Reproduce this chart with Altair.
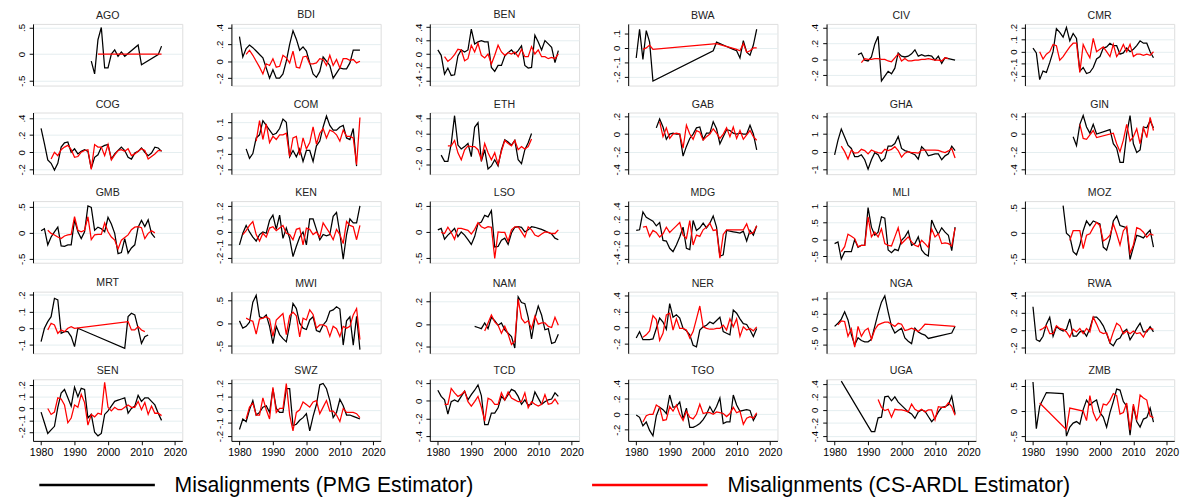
import altair as alt
import pandas as pd

N = None
YEARS = list(range(1980, 2017))
S1 = "Misalignments (PMG Estimator)"
S2 = "Misalignments (CS-ARDL Estimator)"

COUNTRIES = ["AGO", "BDI", "BEN", "BWA", "CIV", "CMR",
             "COG", "COM", "ETH", "GAB", "GHA", "GIN",
             "GMB", "KEN", "LSO", "MDG", "MLI", "MOZ",
             "MRT", "MWI", "NAM", "NER", "NGA", "RWA",
             "SEN", "SWZ", "TCD", "TGO", "UGA", "ZMB"]

# y-axis ranges and tick values
Y_LO = [-0.59, -0.287, -0.471, -0.262, -0.328, -0.279,
        -0.257, -0.231, -0.326, -0.455, -1.28, -0.455,
        -0.575, -0.2375, -0.594, -0.459, -0.69, -0.576,
        -0.15, -0.66, -0.257, -0.32, -0.8, -0.267,
        -0.273, -0.237, -0.455, -0.346, -0.474, -0.596]
Y_HI = [0.566, 0.44, 0.448, 0.167, 0.444, 0.229,
        0.465, 0.162, 0.471, 0.244, 2.22, 0.244,
        0.61, 0.2375, 0.594, 0.474, 1.145, 0.627,
        0.22, 0.69, 0.286, 0.449, 1.236, 0.445,
        0.246, 0.232, 0.244, 0.454, 0.469, 0.635]
Y_TICKS = [[-0.5, 0, 0.5], [-0.2, 0, 0.2, 0.4], [-0.4, -0.2, 0, 0.2, 0.4], [-0.2, -0.1, 0, 0.1], [-0.2, 0, 0.2, 0.4], [-0.2, -0.1, 0, 0.1, 0.2],
           [-0.2, 0, 0.2, 0.4], [-0.2, -0.1, 0, 0.1], [-0.2, 0, 0.2, 0.4], [-0.4, -0.2, 0, 0.2], [-1, 0, 1, 2], [-0.4, -0.2, 0, 0.2],
           [-0.5, 0, 0.5], [-0.2, -0.1, 0, 0.1, 0.2], [-0.5, 0, 0.5], [-0.4, -0.2, 0, 0.2, 0.4], [-0.5, 0, 0.5, 1], [-0.5, 0, 0.5],
           [-0.1, 0, 0.1, 0.2], [-0.5, 0, 0.5], [-0.2, 0, 0.2], [-0.2, 0, 0.2, 0.4], [-0.5, 0, 0.5, 1], [-0.2, 0, 0.2, 0.4],
           [-0.2, -0.1, 0, 0.1, 0.2], [-0.2, -0.1, 0, 0.1, 0.2], [-0.4, -0.2, 0, 0.2], [-0.2, 0, 0.2, 0.4], [-0.4, -0.2, 0, 0.2, 0.4], [-0.5, 0, 0.5]]
X_TICKS = [1980, 1990, 2000, 2010, 2020]

# ---- series values, one entry per year 1980..2016 (None = not reported) ----
AGO_PMG = [N, N, N, N, N, N, N, N, N, N, N, N, N, N, N, -0.13, -0.37, 0.27, 0.5, -0.26, -0.26, 0.0, 0.08, -0.04, 0.04, -0.04, N, N, N, 0.17, -0.2, N, N, N, N, -0.01, 0.15]
AGO_ARDL = [N, N, N, N, N, N, N, N, N, N, N, N, N, N, N, N, N, 0.0, N, N, N, N, N, N, N, N, N, N, N, N, N, N, N, N, N, N, 0.0]
BDI_PMG = [0.29, 0.05, 0.15, 0.19, 0.16, 0.12, 0.08, 0.04, -0.08, -0.2, -0.1, -0.2, -0.2, -0.15, 0.0, 0.2, 0.36, 0.26, 0.13, 0.17, 0.12, -0.02, -0.15, -0.19, -0.12, 0.05, 0.0, -0.05, -0.2, -0.14, -0.08, -0.09, -0.09, -0.02, 0.13, 0.13, 0.13]
BDI_ARDL = [N, N, 0.08, 0.13, 0.07, 0.0, -0.07, -0.15, -0.03, -0.05, 0.03, -0.07, -0.06, 0.07, 0.04, -0.02, 0.12, -0.07, -0.08, 0.05, 0.06, -0.03, -0.03, -0.02, 0.03, 0.02, -0.05, 0.07, -0.05, 0.02, -0.08, 0.03, 0.03, 0.01, 0.02, -0.02, 0.0]
BEN_PMG = [0.06, -0.02, -0.3, -0.21, -0.32, -0.31, -0.03, 0.06, 0.03, 0.06, 0.37, 0.15, 0.18, 0.2, 0.18, 0.18, -0.2, -0.26, -0.17, -0.17, -0.03, 0.02, 0.06, 0.0, 0.05, 0.12, -0.17, -0.21, -0.2, 0.28, 0.18, 0.06, 0.2, 0.15, 0.1, -0.13, 0.05]
BEN_ARDL = [N, N, -0.04, -0.11, -0.07, -0.01, 0.07, 0.06, -0.1, -0.07, 0.13, 0.03, 0.16, -0.02, -0.06, 0.0, -0.15, -0.02, 0.13, 0.03, -0.02, 0.02, 0.0, 0.03, -0.04, 0.07, -0.04, -0.04, 0.11, 0.0, 0.06, -0.04, -0.04, -0.07, -0.05, -0.07, 0.0]
BWA_PMG = [-0.07, 0.13, -0.08, 0.12, 0.04, -0.23, N, N, N, N, N, N, N, N, N, N, N, N, N, N, N, N, N, -0.02, 0.04, 0.03, 0.02, 0.01, 0.0, -0.01, -0.02, -0.07, 0.05, -0.03, -0.05, 0.02, 0.13]
BWA_ARDL = [N, N, -0.01, 0.0, 0.02, -0.01, N, N, N, N, N, N, N, N, N, N, N, N, N, N, N, N, N, N, 0.03, N, N, N, N, N, -0.01, -0.02, 0.03, -0.03, -0.02, 0.0, 0.0]
CIV_PMG = [N, N, N, N, N, N, N, 0.06, 0.08, -0.01, -0.02, 0.03, 0.19, 0.29, -0.27, -0.21, -0.15, -0.18, -0.11, 0.08, 0.04, 0.03, 0.04, 0.07, 0.12, 0.04, 0.06, 0.04, 0.05, 0.04, -0.01, 0.04, -0.05, 0.02, 0.01, 0.0, -0.01]
CIV_ARDL = [N, N, N, N, N, N, N, N, -0.04, 0.01, 0.0, 0.0, 0.01, 0.01, 0.0, 0.0, -0.02, -0.03, 0.02, 0.07, -0.02, 0.01, -0.02, -0.02, -0.01, -0.01, 0.0, 0.0, 0.01, 0.0, -0.01, -0.01, -0.02, 0.02, 0.01, N, N]
CMR_PMG = [0.03, -0.01, -0.23, -0.16, -0.17, -0.09, 0.0, 0.19, 0.16, 0.12, 0.2, 0.09, 0.15, 0.11, -0.16, -0.13, -0.18, -0.17, -0.13, -0.06, -0.04, 0.03, 0.04, 0.07, 0.05, 0.05, -0.02, -0.01, 0.03, 0.0, 0.02, 0.05, 0.09, 0.07, 0.07, 0.0, -0.05]
CMR_ARDL = [N, N, 0.0, -0.06, -0.02, 0.0, 0.06, 0.05, -0.07, -0.04, 0.0, 0.04, 0.07, 0.07, -0.17, 0.06, 0.0, -0.05, 0.11, 0.0, 0.02, 0.04, 0.0, -0.04, 0.06, -0.04, 0.0, 0.06, 0.0, 0.06, -0.04, -0.02, -0.02, -0.03, -0.02, -0.03, 0.0]
COG_PMG = [0.28, 0.1, -0.09, -0.13, -0.21, -0.13, 0.06, 0.11, 0.12, 0.0, 0.04, -0.02, 0.01, 0.03, 0.01, -0.19, -0.06, -0.03, 0.06, 0.08, 0.09, -0.08, -0.02, 0.02, 0.06, 0.02, -0.06, -0.08, -0.01, 0.01, 0.05, 0.0, -0.04, -0.01, 0.06, 0.05, 0.01]
COG_ARDL = [N, N, N, -0.08, 0.0, -0.04, 0.03, 0.06, 0.08, 0.03, -0.06, -0.05, 0.0, 0.02, 0.03, -0.2, 0.09, 0.06, 0.06, -0.04, 0.09, -0.09, -0.03, 0.02, 0.03, 0.01, 0.04, -0.04, -0.02, 0.01, 0.04, 0.02, -0.08, -0.05, -0.02, 0.02, 0.02]
COM_PMG = [N, N, -0.07, -0.13, -0.1, 0.0, 0.02, 0.11, 0.08, 0.05, 0.02, 0.03, 0.06, 0.12, 0.1, -0.12, -0.08, -0.12, -0.07, -0.15, -0.08, -0.08, -0.15, -0.05, -0.02, 0.07, 0.14, 0.08, 0.05, 0.05, 0.07, 0.08, 0.0, -0.01, 0.06, -0.18, N]
COM_ARDL = [N, N, N, N, N, -0.02, 0.11, -0.01, 0.09, -0.03, 0.01, -0.01, 0.02, 0.02, 0.03, -0.12, 0.0, 0.01, -0.11, 0.0, -0.07, -0.03, 0.07, -0.04, 0.03, 0.06, 0.0, 0.05, 0.04, 0.02, -0.02, 0.05, 0.01, 0.01, 0.0, -0.17, 0.13]
ETH_PMG = [N, -0.08, -0.16, -0.16, 0.07, 0.43, 0.05, 0.0, 0.03, 0.07, -0.1, 0.28, 0.34, -0.16, -0.01, -0.26, -0.22, -0.14, -0.22, -0.01, 0.12, 0.09, 0.05, 0.11, -0.14, -0.19, -0.01, 0.08, 0.2, N, N, N, N, N, N, N, N]
ETH_ARDL = [N, N, N, 0.04, 0.04, 0.11, -0.05, -0.14, -0.01, 0.04, 0.03, 0.03, -0.01, -0.14, 0.07, -0.05, -0.14, -0.05, -0.2, -0.03, 0.11, 0.07, 0.04, 0.11, -0.01, 0.03, 0.0, 0.03, 0.13, N, N, N, N, N, N, N, N]
GAB_PMG = [N, N, N, N, N, N, 0.07, 0.17, 0.08, -0.06, 0.0, 0.01, 0.0, 0.0, -0.25, -0.14, -0.05, 0.0, 0.07, 0.08, -0.06, 0.01, 0.01, 0.14, 0.06, -0.11, -0.03, 0.05, 0.04, 0.01, 0.0, 0.01, 0.0, 0.0, 0.1, 0.0, -0.18]
GAB_ARDL = [N, N, N, N, N, N, N, 0.14, -0.03, 0.07, -0.05, 0.0, 0.01, 0.0, -0.16, 0.1, 0.0, -0.06, 0.04, 0.02, -0.07, -0.03, 0.0, 0.06, 0.01, -0.05, 0.0, 0.07, -0.03, 0.08, -0.05, 0.04, -0.06, -0.01, 0.04, -0.03, -0.07]
GHA_PMG = [-0.18, 0.64, 1.28, 0.83, 0.37, 0.18, -0.28, -0.28, -0.18, -0.46, -1.0, -0.46, -0.06, -0.18, -0.55, -0.37, 0.31, 0.31, 0.46, 0.86, 0.18, 0.06, 0.0, -0.09, -0.18, -0.42, 0.28, 0.09, -0.24, -0.18, -0.13, -0.13, -0.46, -0.24, -0.13, 0.31, 0.05]
GHA_ARDL = [N, N, 0.31, 0.0, -0.42, 0.09, -0.09, -0.06, 0.13, 0.06, -0.13, 0.09, 0.0, -0.06, -0.09, 0.13, 0.06, 0.13, 0.28, 0.06, -0.31, -0.09, 0.0, -0.06, -0.06, -0.09, 0.09, 0.09, 0.09, 0.09, 0.09, 0.07, 0.0, -0.06, 0.04, 0.18, -0.36]
GIN_PMG = [N, N, N, N, N, N, N, N, N, N, N, N, -0.03, -0.13, 0.11, 0.21, 0.08, 0.01, 0.11, 0.0, N, N, N, 0.05, -0.11, -0.16, -0.32, -0.32, 0.0, 0.21, -0.11, -0.21, -0.18, 0.08, 0.07, 0.15, 0.07]
GIN_ARDL = [N, N, N, N, N, N, N, N, N, N, N, N, N, N, 0.11, -0.05, -0.06, -0.01, 0.04, -0.04, N, N, N, N, 0.01, -0.11, -0.2, -0.07, 0.11, -0.08, -0.03, 0.06, -0.11, 0.07, -0.04, 0.19, 0.04]
GMB_PMG = [0.04, 0.08, -0.23, -0.08, 0.02, 0.11, -0.25, -0.26, -0.23, -0.23, 0.25, 0.02, -0.11, 0.02, 0.52, 0.49, 0.05, 0.11, 0.08, 0.02, 0.3, 0.17, -0.01, -0.4, -0.38, -0.11, -0.39, -0.29, -0.23, 0.11, 0.24, 0.12, 0.25, -0.01, -0.09, N, N]
GMB_ARDL = [N, N, 0.05, -0.01, -0.04, -0.08, -0.11, -0.06, -0.04, -0.03, 0.31, 0.05, 0.02, 0.05, 0.31, -0.13, -0.04, -0.03, -0.03, 0.19, 0.02, -0.08, -0.14, -0.31, -0.14, -0.09, -0.04, 0.06, 0.11, 0.12, 0.1, -0.11, -0.01, 0.04, 0.0, N, N]
KEN_PMG = [-0.1, -0.01, 0.05, 0.0, -0.04, -0.07, -0.02, 0.0, -0.01, 0.09, 0.13, 0.02, 0.13, -0.05, 0.03, -0.05, -0.19, -0.11, -0.04, 0.0, -0.1, 0.1, 0.1, 0.02, -0.06, -0.02, -0.03, -0.02, 0.12, 0.15, -0.01, -0.21, -0.02, 0.1, 0.07, 0.07, 0.2]
KEN_ARDL = [N, -0.02, 0.01, 0.05, 0.08, -0.02, -0.07, -0.01, -0.04, 0.03, 0.04, 0.01, 0.03, 0.05, -0.01, -0.02, -0.06, 0.02, 0.03, -0.1, 0.03, 0.02, -0.02, 0.0, -0.04, 0.07, 0.03, -0.01, -0.06, 0.02, -0.02, -0.09, 0.08, 0.05, 0.04, -0.06, 0.05]
LSO_PMG = [0.04, 0.07, -0.14, -0.06, 0.0, 0.07, -0.09, 0.0, -0.06, -0.15, -0.24, -0.09, 0.16, 0.19, 0.32, 0.29, 0.41, -0.29, -0.28, -0.16, -0.12, -0.24, -0.02, 0.09, 0.1, 0.09, 0.0, 0.04, 0.1, 0.09, 0.07, 0.05, 0.02, -0.01, -0.04, -0.12, -0.15]
LSO_ARDL = [N, -0.01, -0.03, 0.09, -0.01, -0.14, 0.07, 0.07, 0.05, 0.03, -0.04, 0.05, 0.18, 0.1, 0.07, 0.1, 0.09, -0.51, 0.0, -0.01, -0.01, -0.18, 0.04, 0.1, 0.1, 0.0, -0.1, 0.1, 0.04, -0.06, -0.09, -0.04, 0.0, -0.01, -0.03, -0.03, 0.04]
MDG_PMG = [0.03, 0.04, 0.31, 0.23, 0.2, 0.17, 0.1, 0.15, -0.12, -0.13, -0.24, -0.29, -0.19, -0.07, 0.08, -0.24, -0.26, 0.18, 0.03, 0.07, 0.14, 0.07, 0.14, 0.25, 0.08, -0.36, -0.34, 0.03, 0.02, 0.01, 0.0, -0.01, 0.02, -0.13, 0.03, -0.04, 0.1]
MDG_ARDL = [N, N, 0.08, 0.09, -0.06, 0.03, 0.0, -0.07, -0.02, 0.08, 0.0, 0.05, 0.1, 0.15, -0.04, -0.09, 0.18, -0.19, -0.04, -0.06, 0.04, 0.08, 0.14, 0.03, 0.04, -0.39, -0.03, 0.04, N, N, N, N, 0.04, 0.13, -0.02, 0.0, 0.1]
MLI_PMG = [-0.12, -0.07, -0.58, -0.36, -0.36, -0.36, 0.0, -0.23, -0.17, -0.17, 0.95, 0.37, 0.13, 0.22, 0.68, 0.64, -0.31, -0.39, -0.29, -0.33, -0.02, 0.08, 0.25, -0.17, -0.12, 0.08, -0.31, -0.43, -0.49, 0.58, 0.35, 0.16, 0.35, 0.22, 0.13, -0.33, 0.37]
MLI_ARDL = [N, N, -0.36, -0.21, 0.16, 0.1, 0.03, -0.21, -0.17, -0.17, 0.68, 0.08, 0.22, 0.08, 0.32, -0.12, -0.17, -0.19, 0.08, 0.35, -0.12, -0.02, 0.08, -0.07, -0.17, -0.21, -0.02, -0.12, -0.23, 0.32, 0.08, 0.17, -0.12, -0.1, -0.12, -0.19, 0.35]
MOZ_PMG = [N, N, N, N, N, N, N, N, N, 0.54, 0.0, -0.06, -0.36, -0.42, -0.23, 0.05, 0.24, 0.15, 0.24, 0.21, 0.18, -0.27, -0.33, -0.11, 0.24, 0.34, 0.15, 0.13, 0.11, -0.51, -0.27, -0.04, -0.06, -0.09, -0.01, 0.06, -0.27]
MOZ_ARDL = [N, N, N, N, N, N, N, N, N, N, N, -0.14, 0.05, 0.05, 0.05, -0.3, -0.04, -0.01, 0.11, 0.21, 0.15, -0.15, -0.11, -0.04, 0.18, -0.01, -0.23, 0.05, 0.13, -0.39, -0.23, 0.11, 0.08, 0.02, -0.08, -0.01, -0.04]
MRT_PMG = [-0.08, 0.0, 0.04, 0.07, 0.18, 0.17, -0.03, -0.02, -0.02, -0.05, -0.11, 0.0, N, N, N, N, N, N, N, N, N, N, N, N, N, -0.12, 0.07, 0.09, 0.08, 0.0, -0.09, -0.05, -0.04, N, N, N, N]
MRT_ARDL = [N, N, -0.01, 0.03, 0.02, -0.03, -0.01, -0.02, 0.0, 0.01, 0.0, N, N, N, N, N, N, N, N, N, N, N, N, N, N, N, 0.04, -0.01, -0.01, 0.01, -0.01, -0.02, N, N, N, N, N]
MWI_PMG = [0.05, -0.11, -0.07, 0.02, 0.46, 0.61, 0.14, 0.11, 0.18, -0.07, -0.45, -0.07, -0.25, -0.34, -0.41, -0.04, 0.43, 0.32, 0.0, -0.11, -0.14, 0.07, 0.14, -0.16, -0.19, -0.04, 0.05, 0.26, 0.29, 0.36, 0.31, -0.48, 0.05, 0.14, -0.48, 0.15, -0.58]
MWI_ARDL = [N, N, 0.11, 0.07, 0.04, -0.24, 0.09, 0.11, 0.14, 0.09, -0.29, 0.07, 0.14, 0.21, -0.25, 0.16, 0.24, 0.16, -0.3, 0.11, 0.07, 0.29, 0.19, -0.11, -0.04, -0.04, -0.07, -0.29, -0.07, -0.12, -0.29, -0.07, -0.11, -0.07, 0.18, 0.32, -0.36]
NAM_PMG = [N, N, N, N, N, N, N, N, N, N, N, -0.02, -0.03, -0.04, 0.01, -0.04, 0.06, 0.03, -0.01, 0.01, -0.05, -0.08, -0.11, -0.21, 0.24, 0.19, 0.18, 0.06, -0.13, 0.05, 0.16, 0.08, -0.05, -0.04, -0.17, -0.16, -0.09]
NAM_ARDL = [N, N, N, N, N, N, N, N, N, N, N, N, N, N, -0.06, 0.01, 0.08, 0.02, -0.01, -0.08, -0.02, -0.09, -0.18, -0.15, 0.22, 0.05, 0.01, 0.03, -0.04, 0.07, 0.0, 0.01, 0.01, -0.02, -0.03, 0.06, -0.01]
NER_PMG = [-0.13, -0.05, -0.15, -0.15, -0.15, -0.14, -0.01, 0.12, 0.07, -0.02, 0.3, 0.13, 0.16, 0.12, -0.01, -0.04, -0.09, -0.22, -0.24, -0.03, 0.01, 0.03, 0.07, 0.05, 0.09, 0.13, -0.05, -0.07, -0.09, 0.22, 0.18, 0.11, 0.05, 0.04, -0.03, -0.11, -0.01]
NER_ARDL = [N, N, -0.12, -0.09, -0.04, 0.15, 0.1, -0.16, -0.07, 0.16, 0.18, -0.03, 0.11, -0.01, -0.01, -0.03, -0.13, -0.05, 0.11, 0.27, 0.01, -0.01, -0.02, -0.02, -0.01, -0.01, 0.03, -0.03, 0.11, 0.01, 0.11, -0.11, 0.01, -0.03, -0.01, -0.04, 0.01]
NGA_PMG = [0.09, 0.19, 0.33, 0.57, 0.3, -0.18, -0.53, -0.29, -0.38, -0.42, -0.42, -0.34, 0.09, 0.52, 0.89, 1.1, 0.57, 0.09, -0.13, -0.05, 0.03, -0.29, -0.4, -0.48, 0.03, -0.1, -0.16, -0.2, -0.31, N, N, N, N, N, N, -0.13, 0.09]
NGA_ARDL = [N, 0.14, 0.27, 0.25, -0.24, 0.01, -0.6, 0.09, -0.24, -0.05, 0.03, -0.34, -0.02, 0.14, 0.19, 0.23, 0.23, 0.16, 0.09, 0.19, 0.16, -0.05, -0.02, 0.03, -0.02, -0.08, 0.03, 0.16, N, N, N, N, N, N, N, N, 0.09]
RWA_PMG = [0.27, -0.11, -0.13, -0.07, 0.07, 0.15, -0.07, 0.04, 0.01, -0.01, 0.01, 0.13, -0.07, -0.07, -0.02, -0.01, -0.07, 0.02, 0.15, 0.15, 0.11, 0.05, -0.04, -0.15, -0.18, -0.11, -0.09, -0.02, 0.01, -0.11, -0.05, 0.02, 0.08, -0.02, -0.02, 0.04, -0.02]
RWA_ARDL = [N, N, 0.0, 0.02, 0.05, -0.04, -0.04, 0.05, 0.02, 0.01, -0.02, -0.08, 0.01, -0.02, 0.02, -0.04, 0.02, -0.02, 0.15, 0.07, -0.02, -0.04, -0.03, -0.14, -0.02, 0.08, 0.05, -0.04, -0.01, -0.04, -0.01, -0.04, -0.03, -0.08, 0.0, 0.02, 0.01]
SEN_PMG = [-0.03, -0.12, -0.21, -0.18, -0.15, 0.01, 0.13, 0.16, 0.09, 0.02, 0.18, 0.1, 0.17, 0.16, -0.08, -0.05, -0.2, -0.23, -0.21, -0.05, -0.02, 0.02, 0.06, 0.07, 0.08, 0.09, -0.04, 0.0, 0.02, 0.11, 0.06, 0.09, 0.09, 0.06, 0.03, -0.04, -0.1]
SEN_ARDL = [N, N, 0.0, -0.05, -0.03, 0.09, 0.08, 0.03, -0.12, -0.08, 0.03, 0.01, 0.12, 0.05, -0.14, -0.05, -0.07, -0.04, -0.05, 0.22, 0.01, -0.02, 0.01, -0.01, -0.01, 0.01, 0.03, 0.01, 0.01, 0.06, -0.01, 0.05, -0.05, 0.02, -0.04, -0.04, -0.06]
SWZ_PMG = [-0.15, -0.07, -0.09, 0.0, 0.07, -0.04, -0.02, 0.02, 0.03, -0.02, 0.16, 0.01, -0.02, -0.02, 0.16, 0.16, -0.12, -0.11, -0.08, -0.06, -0.03, -0.16, -0.05, 0.04, 0.19, 0.2, 0.16, 0.07, -0.06, -0.02, 0.08, 0.03, -0.04, -0.04, -0.05, -0.06, -0.07]
SWZ_ARDL = [N, N, -0.07, 0.02, 0.05, -0.04, -0.04, 0.09, 0.0, -0.07, 0.17, -0.02, 0.01, 0.01, 0.2, -0.04, -0.16, -0.02, 0.0, 0.06, 0.04, 0.02, 0.06, 0.07, -0.03, 0.02, 0.07, -0.01, -0.01, -0.04, -0.09, 0.01, -0.02, -0.02, -0.02, -0.03, -0.06]
TCD_PMG = [0.12, 0.05, 0.01, -0.15, -0.01, 0.01, -0.01, 0.05, 0.11, 0.01, 0.07, 0.12, 0.18, 0.06, -0.27, -0.27, -0.14, -0.14, -0.08, 0.05, 0.01, 0.07, 0.13, 0.11, 0.05, -0.04, 0.01, -0.05, -0.04, 0.1, 0.03, -0.04, -0.01, 0.01, 0.02, 0.09, 0.05]
TCD_ARDL = [N, N, -0.04, -0.04, 0.14, 0.09, 0.05, 0.07, 0.11, -0.01, -0.06, -0.01, 0.05, -0.07, -0.23, 0.03, 0.01, -0.04, -0.04, 0.09, 0.01, 0.1, 0.03, 0.01, -0.01, -0.01, 0.09, -0.08, -0.01, -0.04, -0.06, -0.04, 0.07, -0.04, -0.03, 0.02, -0.04]
TGO_PMG = [-0.01, -0.04, -0.15, -0.1, -0.21, -0.28, -0.02, 0.09, 0.06, 0.01, 0.25, 0.09, 0.1, 0.16, -0.06, 0.08, -0.17, -0.17, -0.15, -0.12, -0.07, 0.0, 0.1, 0.02, 0.1, 0.21, -0.12, -0.1, -0.1, 0.25, 0.12, 0.04, 0.05, 0.06, 0.05, -0.08, 0.0]
TGO_ARDL = [N, N, -0.1, -0.02, 0.0, 0.0, 0.12, 0.09, -0.08, -0.07, 0.1, 0.04, 0.12, 0.0, -0.08, 0.04, -0.04, -0.06, 0.0, 0.13, 0.01, 0.02, 0.02, 0.0, 0.03, 0.02, 0.01, -0.03, 0.01, 0.09, 0.02, 0.04, -0.13, -0.05, -0.03, -0.05, 0.02]
UGA_PMG = [N, N, 0.44, N, N, N, N, N, N, N, N, -0.33, -0.33, -0.12, -0.11, 0.2, 0.21, 0.14, 0.2, 0.12, 0.07, 0.02, -0.03, -0.06, -0.13, -0.03, 0.0, -0.02, -0.1, -0.18, -0.12, -0.03, 0.04, 0.05, 0.08, 0.21, -0.06]
UGA_ARDL = [N, N, N, N, N, N, N, N, N, N, N, N, N, 0.16, 0.04, -0.01, 0.01, -0.11, 0.01, 0.0, 0.0, -0.01, -0.03, 0.09, 0.01, -0.02, 0.01, -0.03, 0.0, 0.0, -0.15, 0.05, 0.04, 0.04, 0.11, 0.05, -0.08]
ZMB_PMG = [0.58, -0.35, 0.1, N, 0.37, N, N, N, N, 0.35, -0.5, -0.32, -0.24, -0.21, -0.26, 0.03, 0.22, 0.12, 0.18, 0.22, -0.03, -0.12, -0.32, -0.03, 0.19, 0.44, 0.42, 0.19, 0.1, -0.48, 0.1, -0.21, -0.32, -0.16, -0.13, 0.06, -0.22]
ZMB_ARDL = [N, N, 0.16, N, N, N, N, N, N, N, -0.37, 0.06, N, N, N, 0.0, -0.19, 0.31, -0.03, -0.19, -0.1, 0.14, 0.12, 0.21, 0.35, 0.31, -0.06, -0.03, 0.16, -0.38, 0.14, -0.18, 0.32, 0.26, 0.22, -0.1, -0.13]

PMG = [AGO_PMG, BDI_PMG, BEN_PMG, BWA_PMG, CIV_PMG, CMR_PMG,
       COG_PMG, COM_PMG, ETH_PMG, GAB_PMG, GHA_PMG, GIN_PMG,
       GMB_PMG, KEN_PMG, LSO_PMG, MDG_PMG, MLI_PMG, MOZ_PMG,
       MRT_PMG, MWI_PMG, NAM_PMG, NER_PMG, NGA_PMG, RWA_PMG,
       SEN_PMG, SWZ_PMG, TCD_PMG, TGO_PMG, UGA_PMG, ZMB_PMG]
ARDL = [AGO_ARDL, BDI_ARDL, BEN_ARDL, BWA_ARDL, CIV_ARDL, CMR_ARDL,
        COG_ARDL, COM_ARDL, ETH_ARDL, GAB_ARDL, GHA_ARDL, GIN_ARDL,
        GMB_ARDL, KEN_ARDL, LSO_ARDL, MDG_ARDL, MLI_ARDL, MOZ_ARDL,
        MRT_ARDL, MWI_ARDL, NAM_ARDL, NER_ARDL, NGA_ARDL, RWA_ARDL,
        SEN_ARDL, SWZ_ARDL, TCD_ARDL, TGO_ARDL, UGA_ARDL, ZMB_ARDL]

for k, c in enumerate(COUNTRIES):
    if len(PMG[k]) != len(YEARS) or len(ARDL[k]) != len(YEARS):
        raise ValueError(f"{c}: {len(PMG[k])} / {len(ARDL[k])}")

FONT = "Liberation Sans"
LABEL_EXPR = ("datum.value == 0 ? '0' : (datum.value < 0 ? '-' : '') + "
              "replace(toString(abs(datum.value)), '0.', '.')")

color_scale = alt.Scale(domain=[S1, S2], range=["#000000", "#ff0000"])
# long horizontal legend strokes: custom path drawn to the right of the symbol slot
legend = alt.Legend(title=None, orient="bottom", direction="horizontal",
                    symbolType="M-0.5,0H11.5", symbolSize=400, symbolStrokeWidth=2.5,
                    symbolFillColor="transparent",
                    labelFontSize=22, labelFont=FONT, labelColor="#000000",
                    labelLimit=700, labelOffset=124, columnPadding=116, offset=16)


def panel(i, country):
    rows = []
    for name, arr in ((S1, PMG[i]), (S2, ARDL[i])):
        for yr, v in zip(YEARS, arr):
            if v is not None:
                rows.append({"year": yr, "value": v, "series": name})
    df = pd.DataFrame(rows)
    if i >= 24:
        xaxis = alt.Axis(values=X_TICKS, format="d", title=None, grid=False,
                         domainColor="#000000", tickColor="#000000", tickSize=4,
                         labelFont=FONT, labelFontSize=11, labelColor="#000000",
                         labelPadding=2)
    else:
        xaxis = None
    yaxis = alt.Axis(values=Y_TICKS[i], title=None, grid=True, gridColor="#e4edef",
                     gridWidth=1, domainColor="#000000", tickColor="#000000", tickSize=4,
                     labelAngle=270, labelAlign="center", labelBaseline="bottom",
                     labelFont=FONT, labelFontSize=10, labelColor="#000000",
                     labelPadding=3, labelExpr=LABEL_EXPR)
    base = alt.Chart(df).encode(
        x=alt.X("year:Q", scale=alt.Scale(domain=[1977.6, 2022.2], nice=False, zero=False),
                axis=xaxis),
        y=alt.Y("value:Q", scale=alt.Scale(domain=[Y_LO[i], Y_HI[i]], nice=False, zero=False),
                axis=yaxis),
        color=alt.Color("series:N", scale=color_scale, legend=legend),
    )
    black = base.transform_filter(alt.datum.series == S1).mark_line(strokeWidth=1.3, clip=True)
    red = base.transform_filter(alt.datum.series == S2).mark_line(strokeWidth=1.3, clip=True)
    return alt.layer(black, red).properties(
        width=155, height=64,
        title=alt.TitleParams(country, fontSize=11, font=FONT, fontWeight="normal",
                              color="#222222", offset=3, anchor="middle", frame="group"))


charts = [panel(i, c) for i, c in enumerate(COUNTRIES)]
chart = alt.concat(*charts, columns=6, spacing={"row": 11, "column": 27}).properties(
    padding={"left": 8, "top": -9, "right": 0, "bottom": 0}
).configure_view(strokeWidth=0).configure(background="white")

chart.save("out.html", embed_options={"renderer": "svg", "actions": False})
